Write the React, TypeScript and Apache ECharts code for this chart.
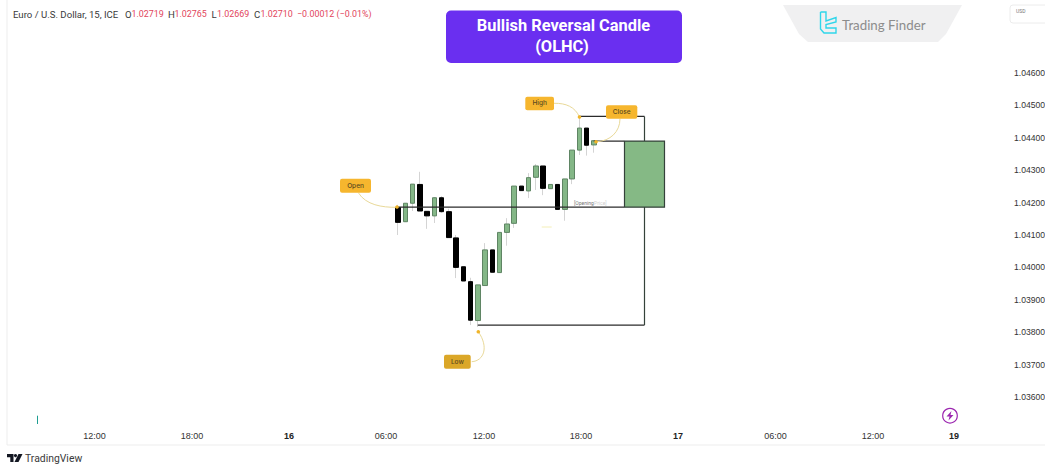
import React, { useEffect, useRef } from "react";
import * as echarts from "echarts";

// Candle slots (one unit = one candle on the x axis)
const candleSlots = [0,1,2,3,4,5,6,7,8,9,10,11,12,13,14,15,16,17,18,19,20,21,22,23,24,25,26,27];
const opens = [1.04185,1.04141,1.04198,1.04256,1.04173,1.04159,1.04215,1.04172,1.04091,1.04002,1.03956,1.03836,1.03944,1.04054,1.03984,1.04108,1.04136,1.04251,1.04236,1.04278,1.04313,1.04243,1.04256,1.04179,1.04273,1.04362,1.0443,1.04378];
const closes = [1.04139,1.04198,1.04257,1.04174,1.04159,1.04215,1.04172,1.04092,1.04,1.03958,1.03837,1.03946,1.04054,1.03985,1.04108,1.04134,1.04251,1.04237,1.04277,1.04313,1.04244,1.04256,1.04179,1.04273,1.04362,1.0443,1.04377,1.04391];
const highs = [1.04193,1.04198,1.04257,1.04295,1.04173,1.04217,1.0422,1.04181,1.041,1.04002,1.03968,1.03946,1.04075,1.04054,1.04108,1.04152,1.04251,1.04251,1.04291,1.04319,1.04313,1.04256,1.04256,1.04273,1.04362,1.04461,1.0443,1.04393];
const lows = [1.041,1.0414,1.04174,1.04174,1.04119,1.04137,1.04168,1.04092,1.03967,1.03958,1.03822,1.03816,1.03943,1.03985,1.03983,1.04067,1.04122,1.04237,1.04214,1.04239,1.04223,1.04243,1.04179,1.04144,1.04257,1.04347,1.04345,1.04354];

// The large illustrated candle: [slot, open, close, low, high]
const bigCandle = [34, 1.04186, 1.0439, 1.03822, 1.04466];

// Connector levels
const openLine = [[-0.1, 1.04186], [31.2, 1.04186]];
const highLine = [[25, 1.04466], [34, 1.04466]];
const closeLine = [[27, 1.0439], [31.2, 1.0439]];
const lowLine = [[11, 1.03822], [34, 1.03822]];

// Axis ticks
const priceTicks = [1.046,1.045,1.044,1.043,1.042,1.041,1.04,1.039,1.038,1.037,1.036];
const timeTickSlots = [-41.86,-28.41,-15.03,-1.66,11.86,25.24,38.62,52.07,65.52,76.69];
const timeTickLabels = ["12:00","18:00","16","06:00","12:00","18:00","17","06:00","12:00","19"];

const callouts = [
  { name: "Open", x: 340, y: 178.7, w: 31, h: 14, fill: "#f6b62e" },
  { name: "High", x: 525.3, y: 96.7, w: 28.7, h: 13.5, fill: "#f6b62e" },
  { name: "Close", x: 606, y: 105.3, w: 31.3, h: 13.5, fill: "#f6b62e" },
  { name: "Low", x: 444, y: 354.7, w: 26.7, h: 14, fill: "#dba728" },
];

const curves = [
  [358.3, 192.7, 366, 205, 382, 207.5, 396.7, 207.3],
  [554, 103.3, 566, 103, 575, 107, 579.3, 116.7],
  [620, 118.7, 620, 132, 610, 141, 597, 141.7],
  [471.7, 361.7, 484, 361, 489, 347, 478.3, 331.7],
];
const dots = [[397, 207], [579.5, 117], [596, 141.7], [478.3, 331.7]];

const headerParts = [
  { t: "Euro / U.S. Dollar, 15, ICE", x: 13, c: "#3a3a3a", f: 9.6 },
  { t: "O", x: 125, c: "#3a3a3a", f: 9.6 },
  { t: "1.02719", x: 131.5, c: "#e2445c", f: 8.9 },
  { t: "H", x: 168, c: "#3a3a3a", f: 9.6 },
  { t: "1.02765", x: 174.5, c: "#e2445c", f: 8.9 },
  { t: "L", x: 211.5, c: "#3a3a3a", f: 9.6 },
  { t: "1.02669", x: 217, c: "#e2445c", f: 8.9 },
  { t: "C", x: 254, c: "#3a3a3a", f: 9.6 },
  { t: "1.02710", x: 260.5, c: "#e2445c", f: 8.9 },
  { t: "\u22120.00012 (\u22120.01%)", x: 297, c: "#e2445c", f: 8.9 },
];

const GREEN = "#84b787";
const GREEN_EDGE = "#5f8564";
const WICK = "#d4d4d4";
const LINE = "#2b2b2b";

export default function App() {
  const ref = useRef<HTMLDivElement>(null);
  useEffect(() => {
    if (!ref.current) return;
    const chart = echarts.init(ref.current, undefined, { renderer: "svg" });
    const wicks = candleSlots.map((s, i) => [s, opens[i], closes[i], lows[i], highs[i]]);
    const bodies = candleSlots.map((s, i) => [
      s, opens[i], closes[i],
      Math.min(opens[i], closes[i]), Math.max(opens[i], closes[i]),
    ]);
    const connector = (data: number[][], name: string) => ({
      type: "line", name, data, symbol: "none", silent: true, z: 4,
      lineStyle: { color: LINE, width: 1.2 },
    });
    const graphic: any[] = [
      { type: "line", shape: { x1: 7, y1: 0, x2: 7, y2: 445 }, style: { stroke: "#ededed", lineWidth: 1 } },
      { type: "line", shape: { x1: 7, y1: 445, x2: 1045, y2: 445 }, style: { stroke: "#ededed", lineWidth: 1 } },
      ...headerParts.map((p) => ({
        type: "text", x: p.x, y: 14,
        style: { text: p.t, fill: p.c, font: `${p.f}px Roboto`, textVerticalAlign: "middle" },
      })),
      { type: "rect", shape: { x: 446, y: 10.5, width: 236, height: 52.5, r: 5 }, style: { fill: "#6a2ff0" } },
      { type: "text", x: 563.5, y: 25, style: { text: "Bullish Reversal Candle", fill: "#fff", font: "bold 16.4px Roboto", textAlign: "center", textVerticalAlign: "middle" } },
      { type: "text", x: 562, y: 46, style: { text: "(OLHC)", fill: "#fff", font: "bold 16.4px Roboto", textAlign: "center", textVerticalAlign: "middle" } },
      { type: "polygon", shape: { points: [[783,5],[962,5],[946,34],[938,42],[808,42],[799,34]] }, style: { fill: "#f0f0f1" } },
      { type: "polyline", shape: { points: [[820.5,12],[826,12],[826,21],[836,17.5],[836,22],[826,24.5],[826,28],[836,28],[836,33],[824,33],[820.5,29],[820.5,12]] }, style: { stroke: "#2fd6ea", lineWidth: 1.4, fill: "none" } },
      { type: "text", x: 842, y: 25, style: { text: "Trading Finder", fill: "#8c8c8c", font: "13.3px Lato", textVerticalAlign: "middle" } },
      { type: "rect", shape: { x: 1010, y: 5, width: 40, height: 18, r: 3 }, style: { fill: "#fff", stroke: "#ececec", lineWidth: 1 } },
      { type: "text", x: 1016, y: 11, style: { text: "USD", fill: "#777", font: "5px Roboto", textVerticalAlign: "middle" } },
      ...curves.map((c) => ({
        type: "bezierCurve", z: 6,
        shape: { x1: c[0], y1: c[1], cpx1: c[2], cpy1: c[3], cpx2: c[4], cpy2: c[5], x2: c[6], y2: c[7] },
        style: { stroke: "#e9d998", lineWidth: 1, fill: "none" },
      })),
      ...dots.map((d) => ({ type: "circle", z: 7, shape: { cx: d[0], cy: d[1], r: 1.8 }, style: { fill: "#f0b429" } })),
      ...callouts.flatMap((c) => [
        { type: "rect", z: 8, shape: { x: c.x, y: c.y, width: c.w, height: c.h, r: 2 }, style: { fill: c.fill } },
        { type: "text", z: 9, x: c.x + c.w / 2, y: c.y + c.h / 2, style: { text: c.name, fill: "#5b4a1e", font: "500 6.5px Inter", textAlign: "center", textVerticalAlign: "middle" } },
      ]),
      { type: "text", z: 9, x: 574, y: 203, style: { text: "[Opening", fill: "#777", font: "5px Roboto", textVerticalAlign: "middle" } },
      { type: "text", z: 9, x: 594, y: 203, style: { text: "Price]", fill: "#cfcfcf", font: "5px Roboto", textVerticalAlign: "middle" } },
      { type: "line", shape: { x1: 541.7, y1: 227, x2: 551.7, y2: 227 }, style: { stroke: "#f4efb8", lineWidth: 1 } },
      { type: "line", shape: { x1: 37.5, y1: 415.7, x2: 37.5, y2: 424 }, style: { stroke: "#1e9e92", lineWidth: 1 } },
      { type: "circle", shape: { cx: 950, cy: 415.7, r: 7.3 }, style: { fill: "#fff", stroke: "#9c27b0", lineWidth: 1.2 } },
      { type: "polygon", shape: { points: [[951.5,411],[946.5,416.5],[949.5,416.5],[948.5,420.5],[953.5,415],[950.5,415]] }, style: { fill: "#9c27b0" } },
      { type: "polygon", shape: { points: [[7,454],[13.5,454],[13.5,462],[10.3,462],[10.3,457.2],[7,457.2]] }, style: { fill: "#131722" } },
      { type: "circle", shape: { cx: 15.5, cy: 455.6, r: 1.6 }, style: { fill: "#131722" } },
      { type: "polygon", shape: { points: [[18.5,454],[22.5,454],[18.5,462],[14.5,462]] }, style: { fill: "#131722" } },
      { type: "text", x: 25, y: 458, style: { text: "TradingView", fill: "#3a3a3a", font: "10.4px Roboto", textVerticalAlign: "middle" } },
    ];
    chart.setOption({
      animation: false,
      backgroundColor: "#ffffff",
      grid: { left: 7, right: 35, top: 8, bottom: 37, outerBoundsMode: "none" },
      xAxis: {
        type: "value", min: -53.93, max: 84.41,
        axisLine: { show: false }, axisTick: { show: false }, splitLine: { show: false },
        axisLabel: {
          customValues: timeTickSlots,
          margin: 4,
          color: "#333",
          fontFamily: "Liberation Sans",
          fontSize: 9,
          formatter: (v: number) => {
            const l = timeTickLabels[timeTickSlots.indexOf(v)] ?? "";
            return l.includes(":") ? l : `{b|${l}}`;
          },
          rich: { b: { fontWeight: "bold", fontSize: 9, color: "#222", fontFamily: "Liberation Sans" } },
        },
      },
      yAxis: {
        type: "value", position: "right", min: 1.035074, max: 1.048006,
        axisLine: { show: false }, axisTick: { show: false }, splitLine: { show: false },
        axisLabel: {
          customValues: priceTicks,
          margin: 4,
          color: "#333",
          fontFamily: "Liberation Sans",
          fontSize: 8.6,
          formatter: (v: number) => v.toFixed(5),
        },
      },
      series: [
        {
          type: "candlestick", name: "Wicks", data: wicks, barWidth: 1, z: 2, silent: true,
          encode: { x: 0, y: [1, 2, 3, 4] },
          itemStyle: { color: WICK, color0: WICK, borderColor: WICK, borderColor0: WICK, borderWidth: 1 },
        },
        {
          type: "candlestick", name: "EURUSD", data: bodies, barWidth: 5, z: 3, silent: true,
          encode: { x: 0, y: [1, 2, 3, 4] },
          itemStyle: { color: GREEN, color0: "#000", borderColor: GREEN_EDGE, borderColor0: "#000", borderWidth: 1 },
        },
        connector(openLine, "Open"),
        connector(highLine, "High"),
        connector(closeLine, "Close"),
        connector(lowLine, "Low"),
        {
          type: "candlestick", name: "Bullish reversal candle", data: [bigCandle], barWidth: 41, z: 5, silent: true,
          encode: { x: 0, y: [1, 2, 3, 4] },
          itemStyle: { color: "#85b985", borderColor: "#34423a", borderWidth: 1.2 },
        },
      ],
      graphic,
    });
    return () => chart.dispose();
  }, []);
  return <div ref={ref} style={{ position: "absolute", left: 0, top: 0, width: 1045, height: 464 }} />;
}
